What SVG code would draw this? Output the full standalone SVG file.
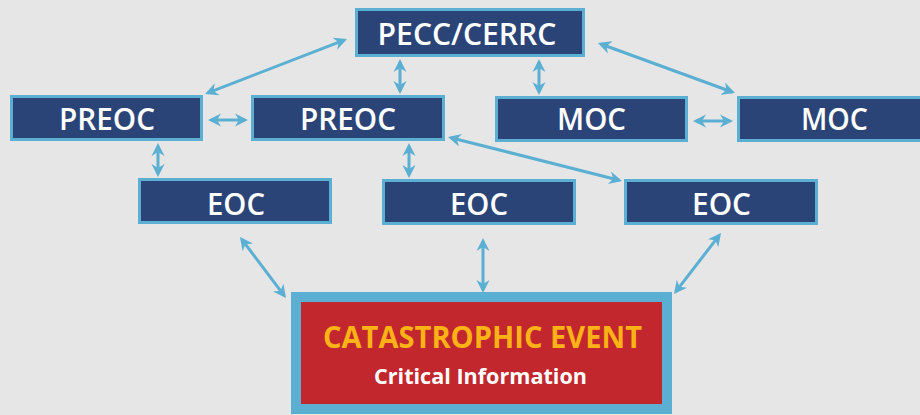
<svg xmlns="http://www.w3.org/2000/svg" width="920" height="415" viewBox="0 0 920 415">
  <style>
    .node rect { fill: #2B4477; stroke: #5AAFD2; stroke-width: 3; }
    .node text { fill: #FFFFFF; font-family: "Open Sans", "Liberation Sans", sans-serif; font-weight: 600; font-size: 31px; text-anchor: middle; }
    .conn line { stroke: #5AAFD2; stroke-width: 3; fill: none; marker-start: url(#head); marker-end: url(#head); }
    .event rect { fill: #C1272D; stroke: #5AAFD2; stroke-width: 10; }
    .event text { font-family: "Open Sans", "Liberation Sans", sans-serif; font-weight: 700; text-anchor: middle; }
  </style>
  <defs>
    <marker id="head" markerUnits="userSpaceOnUse" markerWidth="13" markerHeight="14" viewBox="0 0 13 14" refX="10" refY="7" orient="auto-start-reverse">
      <path d="M0,0.5 L13,7 L0,13.5 L4,7 Z" fill="#5AAFD2"/>
    </marker>
  </defs>
  <rect x="0" y="0" width="920" height="415" fill="#E6E6E6"/>

  <g class="conn" id="connectors">
    <line x1="344.2" y1="40.1" x2="207.8" y2="92.9"/>
    <line x1="400" y1="62" x2="400" y2="91"/>
    <line x1="539" y1="62" x2="539" y2="92"/>
    <line x1="600.8" y1="44" x2="732.2" y2="92"/>
    <line x1="211" y1="120" x2="245" y2="120"/>
    <line x1="696" y1="121" x2="730" y2="121"/>
    <line x1="158" y1="146" x2="158" y2="174"/>
    <line x1="409" y1="146" x2="409" y2="175"/>
    <line x1="450.9" y1="137.7" x2="619.1" y2="180.3"/>
    <line x1="241.8" y1="239.4" x2="284.2" y2="295.6"/>
    <line x1="483" y1="241" x2="483" y2="290"/>
    <line x1="719.2" y1="235.4" x2="675.8" y2="291.6"/>
  </g>

  <g class="node" id="pecc">
    <rect x="356.5" y="9.5" width="227" height="46"/>
    <text x="467" y="45" textLength="179" lengthAdjust="spacingAndGlyphs">PECC/CERRC</text>
  </g>
  <g class="node" id="preoc-left">
    <rect x="11.5" y="96.5" width="190" height="43"/>
    <text x="107" y="130" textLength="96" lengthAdjust="spacingAndGlyphs">PREOC</text>
  </g>
  <g class="node" id="preoc-mid">
    <rect x="252.5" y="96.5" width="191" height="43"/>
    <text x="348" y="130" textLength="96" lengthAdjust="spacingAndGlyphs">PREOC</text>
  </g>
  <g class="node" id="moc-mid">
    <rect x="496.5" y="97.5" width="190" height="43"/>
    <text x="591.5" y="130" textLength="69" lengthAdjust="spacingAndGlyphs">MOC</text>
  </g>
  <g class="node" id="moc-right">
    <rect x="738.5" y="97.5" width="190" height="43"/>
    <text x="834.5" y="130" textLength="67" lengthAdjust="spacingAndGlyphs">MOC</text>
  </g>
  <g class="node" id="eoc-left">
    <rect x="139.5" y="179.5" width="191" height="43"/>
    <text x="236" y="215" textLength="58" lengthAdjust="spacingAndGlyphs">EOC</text>
  </g>
  <g class="node" id="eoc-mid">
    <rect x="383.5" y="180.5" width="191" height="43"/>
    <text x="479" y="215" textLength="58" lengthAdjust="spacingAndGlyphs">EOC</text>
  </g>
  <g class="node" id="eoc-right">
    <rect x="625.5" y="180.5" width="191" height="43"/>
    <text x="721.5" y="215" textLength="59" lengthAdjust="spacingAndGlyphs">EOC</text>
  </g>

  <g class="event" id="catastrophic-event">
    <rect x="296" y="297" width="371" height="112"/>
    <text x="482.5" y="348" font-size="30" fill="#FBB216" textLength="319" lengthAdjust="spacingAndGlyphs">CATASTROPHIC EVENT</text>
    <text x="480.5" y="384" font-size="21" fill="#FFFFFF" textLength="213" lengthAdjust="spacingAndGlyphs">Critical Information</text>
  </g>
</svg>
